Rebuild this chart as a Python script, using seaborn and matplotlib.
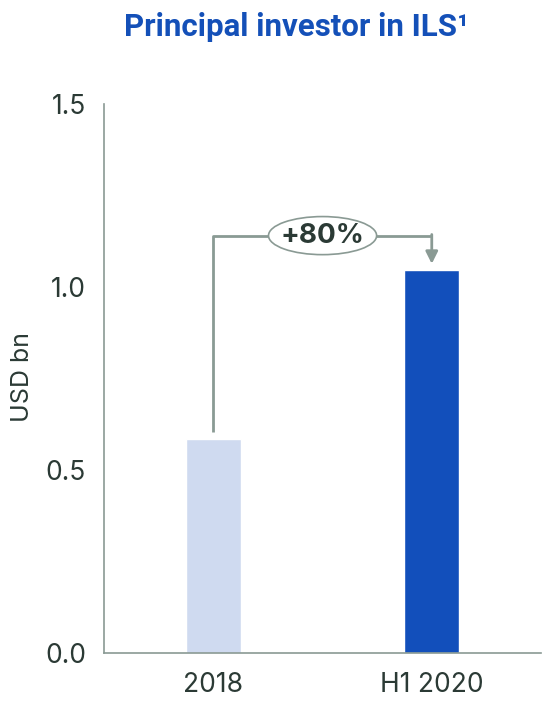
import matplotlib
matplotlib.use("Agg")
import matplotlib.pyplot as plt
from matplotlib.patches import Ellipse
import seaborn as sns
import pandas as pd

# datos
periods = ["2018", "H1 2020"]
values = [0.585, 1.045]
bar_colors = ["#cfdaf0", "#124fbb"]
growth_label = "+80%"

sns.set_theme(style="white")
plt.rcParams["font.family"] = ["Inter", "DejaVu Sans"]

df = pd.DataFrame({"period": periods, "value": values})

fig = plt.figure(figsize=(5.6, 7.06), dpi=100)
ax = fig.add_axes([0.186, 0.075, 0.78, 0.778])

sns.barplot(data=df, x="period", y="value", hue="period", palette=bar_colors,
            width=0.25, legend=False, ax=ax, saturation=1)

ax.set_xlim(-0.5, 1.5)
ax.set_ylim(0, 1.5)
ax.set_yticks([0, 0.5, 1.0, 1.5])
ax.set_yticklabels(["0.0", "0.5", "1.0", "1.5"])

text_col = "#2b3a35"
line_col = "#8a9a94"
ax.tick_params(axis="y", length=0, labelsize=19, labelcolor=text_col, pad=13)
ax.tick_params(axis="x", length=0, labelsize=19, labelcolor=text_col, pad=14)
ax.set_xlabel("")
ax.set_ylabel("USD bn", fontsize=18, color=text_col)
ax.yaxis.set_label_coords(-0.16, 0.503)

for s in ["top", "right"]:
    ax.spines[s].set_visible(False)
for s in ["left", "bottom"]:
    ax.spines[s].set_color(line_col)
    ax.spines[s].set_linewidth(1.2)

# conector con flecha
y_top = 1.14
ax.plot([0, 0, 1], [values[0] + 0.02, y_top, y_top], color=line_col, lw=2,
        solid_capstyle="butt", zorder=3)
ax.annotate("", xy=(1, values[1] + 0.018), xytext=(1, y_top + 0.003),
            arrowprops=dict(arrowstyle="-|>", color=line_col, lw=2,
                            mutation_scale=18, shrinkA=0, shrinkB=0), zorder=3)

ell = Ellipse((0.5, y_top), width=0.495, height=0.104, facecolor="white",
              edgecolor=line_col, lw=1.2, zorder=4)
ax.add_patch(ell)
ax.text(0.5, y_top, growth_label, ha="center", va="center", fontsize=20,
        fontweight="bold", color=text_col, zorder=5)

fig.text(0.53, 0.962, "Principal investor in ILS¹", ha="center", va="center",
         fontsize=22.5, fontweight="bold", color="#1450b8", family="Roboto")

fig.savefig("out.png", dpi=100)
